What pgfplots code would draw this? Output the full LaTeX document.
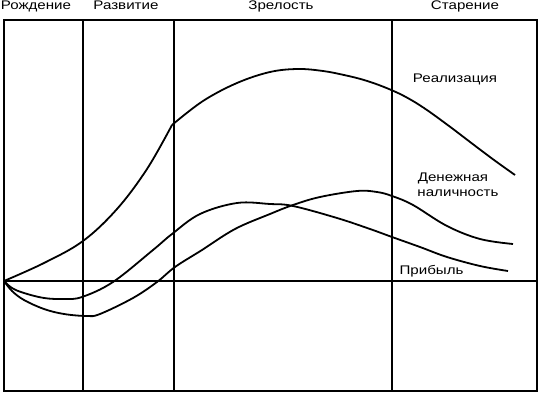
\documentclass[border=0pt]{standalone}
\usepackage{graphicx}
\usepackage{pgfplots}
\pgfplotsset{compat=1.18}
\usepackage{fontspec}
\setmainfont{Liberation Sans}
\newcommand{\lbl}[1]{\scalebox{1.21}[1]{#1}}
\begin{document}
\begin{tikzpicture}
\path[use as bounding box] (-4pt,-3pt) rectangle (536pt,391pt);
\begin{axis}[
  at={(0pt,0pt)}, anchor=south west,
  width=533pt, height=371pt, scale only axis,
  xmin=0, xmax=533, ymin=-110, ymax=261,
  axis line style={line width=2pt},
  ticks=none, clip=false,
  every axis plot/.append style={line width=1.8pt, black, no marks},
]
% phase boundaries and zero line
\addplot[line width=2pt, sharp plot] coordinates {(79,-110) (79,261)};
\addplot[line width=2pt, sharp plot] coordinates {(170,-110) (170,261)};
\addplot[line width=2pt, sharp plot] coordinates {(388,-110) (388,261)};
\addplot[line width=2pt, sharp plot] coordinates {(0,0) (533,0)};
% Реализация (two pieces: a corner at the start of maturity)
\addplot[smooth, tension=0.6] coordinates {
 (0,0) (40,18) (79,40) (113,72) (143,112) (168,156)};
\addplot[smooth, tension=0.6] coordinates {
 (168,156) (199,180) (233,198) (266,209) (294,212) (319,210) (340,206)
 (360,201) (380,194) (400,185) (420,173) (445,155) (470,136) (490,121) (511,106)};
% Прибыль
\addplot[smooth, tension=0.6] coordinates {
 (0,0) (8,-7) (20,-12) (40,-17) (60,-18) (78,-16) (109,-1) (149,31) (168,47)
 (196,67) (233,78) (266,77) (289,75) (333,63) (366,52) (388,44)
 (416,34) (443,24) (476,15) (504,10)};
% Денежная наличность
\addplot[smooth, tension=0.6] coordinates {
 (0,0) (8,-10) (20,-19) (40,-28) (60,-33) (83,-35) (96,-33) (129,-17) (153,-1)
 (171,14) (198,31) (231,52) (266,67) (289,76) (316,84) (353,90) (373,89)
 (388,85) (409,76) (443,55) (476,42) (509,37)};
\begin{scope}[every node/.style={font=\fontsize{12.5}{14}\selectfont, inner sep=0pt, anchor=base}]
\node at (axis cs:32,271.5) {\lbl{Рождение}};
\node at (axis cs:122,271.5) {\lbl{Развитие}};
\node at (axis cs:277,271.5) {\lbl{Зрелость}};
\node at (axis cs:461,271.5) {\lbl{Старение}};
\node at (axis cs:451,198) {\lbl{Реализация}};
\node at (axis cs:449,99) {\lbl{Денежная}};
\node at (axis cs:454,84) {\lbl{наличность}};
\node at (axis cs:427.5,7) {\lbl{Прибыль}};
\end{scope}
\end{axis}
\end{tikzpicture}
\end{document}
